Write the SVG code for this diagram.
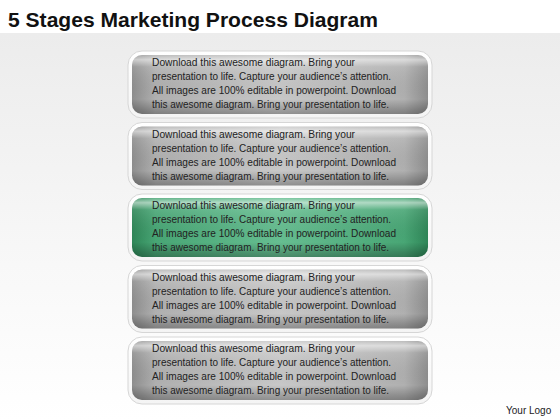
<svg xmlns="http://www.w3.org/2000/svg" width="560" height="420" viewBox="0 0 560 420">
<defs>
<linearGradient id="bg" x1="0" y1="0" x2="0" y2="1">
<stop offset="0" stop-color="#ececec"/>
<stop offset="0.6" stop-color="#f8f8f8"/>
<stop offset="1" stop-color="#ffffff"/>
</linearGradient>
<linearGradient id="grayH" x1="0" y1="0" x2="1" y2="0">
<stop offset="0" stop-color="#8e8e8e"/>
<stop offset="0.08" stop-color="#b0b0b0"/>
<stop offset="0.5" stop-color="#c8c8c8"/>
<stop offset="0.92" stop-color="#b0b0b0"/>
<stop offset="1" stop-color="#8e8e8e"/>
</linearGradient>
<linearGradient id="greenH" x1="0" y1="0" x2="1" y2="0">
<stop offset="0" stop-color="#2e8657"/>
<stop offset="0.08" stop-color="#48a675"/>
<stop offset="0.5" stop-color="#66be91"/>
<stop offset="0.92" stop-color="#48a675"/>
<stop offset="1" stop-color="#2e8657"/>
</linearGradient>
<linearGradient id="gloss" x1="0" y1="0" x2="0" y2="1">
<stop offset="0" stop-color="#ffffff" stop-opacity="0.15"/>
<stop offset="0.08" stop-color="#ffffff" stop-opacity="0.55"/>
<stop offset="0.2" stop-color="#ffffff" stop-opacity="0.1"/>
<stop offset="0.75" stop-color="#000000" stop-opacity="0"/>
<stop offset="0.92" stop-color="#000000" stop-opacity="0.2"/>
<stop offset="1" stop-color="#000000" stop-opacity="0.28"/>
</linearGradient>
<linearGradient id="frame" x1="0" y1="0" x2="0" y2="1">
<stop offset="0" stop-color="#ffffff"/>
<stop offset="1" stop-color="#f4f4f4"/>
</linearGradient>
</defs>
<style>
.frame{fill:url(#frame);stroke:#d6d6d6;stroke-width:1}
.gray{fill:url(#grayH)}
.green{fill:url(#greenH)}
.gloss{fill:url(#gloss)}
.t{font-family:"Liberation Sans",Arial,sans-serif;font-size:11.5px;fill:#222222}
.title{font-family:"Liberation Sans",Arial,sans-serif;font-size:21px;font-weight:bold;fill:#111111}
.logo{font-family:"Liberation Sans",Arial,sans-serif;font-size:10px;fill:#222222}
</style>
<rect x="0" y="0" width="560" height="420" fill="#ffffff"/>
<rect x="0" y="33" width="560" height="387" fill="url(#bg)"/>
<text class="title" x="8" y="27" textLength="370" lengthAdjust="spacingAndGlyphs">5 Stages Marketing Process Diagram</text>

<g id="stage1">
<rect class="frame" x="128" y="51" width="304" height="67" rx="14"/>
<rect class="gray" x="132" y="55" width="296" height="59" rx="10"/>
<rect class="gloss" x="132" y="55" width="296" height="59" rx="10"/>
<text class="t" x="152" y="66" textLength="203" lengthAdjust="spacingAndGlyphs">Download this awesome diagram. Bring your</text>
<text class="t" x="152" y="80" textLength="239" lengthAdjust="spacingAndGlyphs">presentation to life. Capture your audience’s attention.</text>
<text class="t" x="152" y="94" textLength="244" lengthAdjust="spacingAndGlyphs">All images are 100% editable in powerpoint. Download</text>
<text class="t" x="152" y="108" textLength="237" lengthAdjust="spacingAndGlyphs">this awesome diagram. Bring your presentation to life.</text>
</g>

<g id="stage2">
<rect class="frame" x="128" y="122.5" width="304" height="67" rx="14"/>
<rect class="gray" x="132" y="126.5" width="296" height="59" rx="10"/>
<rect class="gloss" x="132" y="126.5" width="296" height="59" rx="10"/>
<text class="t" x="152" y="137.5" textLength="203" lengthAdjust="spacingAndGlyphs">Download this awesome diagram. Bring your</text>
<text class="t" x="152" y="151.5" textLength="239" lengthAdjust="spacingAndGlyphs">presentation to life. Capture your audience’s attention.</text>
<text class="t" x="152" y="165.5" textLength="244" lengthAdjust="spacingAndGlyphs">All images are 100% editable in powerpoint. Download</text>
<text class="t" x="152" y="179.5" textLength="237" lengthAdjust="spacingAndGlyphs">this awesome diagram. Bring your presentation to life.</text>
</g>

<g id="stage3">
<rect class="frame" x="128" y="194" width="304" height="67" rx="14"/>
<rect class="green" x="132" y="198" width="296" height="59" rx="10"/>
<rect class="gloss" x="132" y="198" width="296" height="59" rx="10"/>
<text class="t" x="152" y="209" textLength="203" lengthAdjust="spacingAndGlyphs">Download this awesome diagram. Bring your</text>
<text class="t" x="152" y="223" textLength="239" lengthAdjust="spacingAndGlyphs">presentation to life. Capture your audience’s attention.</text>
<text class="t" x="152" y="237" textLength="244" lengthAdjust="spacingAndGlyphs">All images are 100% editable in powerpoint. Download</text>
<text class="t" x="152" y="251" textLength="237" lengthAdjust="spacingAndGlyphs">this awesome diagram. Bring your presentation to life.</text>
</g>

<g id="stage4">
<rect class="frame" x="128" y="265.5" width="304" height="67" rx="14"/>
<rect class="gray" x="132" y="269.5" width="296" height="59" rx="10"/>
<rect class="gloss" x="132" y="269.5" width="296" height="59" rx="10"/>
<text class="t" x="152" y="280.5" textLength="203" lengthAdjust="spacingAndGlyphs">Download this awesome diagram. Bring your</text>
<text class="t" x="152" y="294.5" textLength="239" lengthAdjust="spacingAndGlyphs">presentation to life. Capture your audience’s attention.</text>
<text class="t" x="152" y="308.5" textLength="244" lengthAdjust="spacingAndGlyphs">All images are 100% editable in powerpoint. Download</text>
<text class="t" x="152" y="322.5" textLength="237" lengthAdjust="spacingAndGlyphs">this awesome diagram. Bring your presentation to life.</text>
</g>

<g id="stage5">
<rect class="frame" x="128" y="337" width="304" height="67" rx="14"/>
<rect class="gray" x="132" y="341" width="296" height="59" rx="10"/>
<rect class="gloss" x="132" y="341" width="296" height="59" rx="10"/>
<text class="t" x="152" y="352" textLength="203" lengthAdjust="spacingAndGlyphs">Download this awesome diagram. Bring your</text>
<text class="t" x="152" y="366" textLength="239" lengthAdjust="spacingAndGlyphs">presentation to life. Capture your audience’s attention.</text>
<text class="t" x="152" y="380" textLength="244" lengthAdjust="spacingAndGlyphs">All images are 100% editable in powerpoint. Download</text>
<text class="t" x="152" y="394" textLength="237" lengthAdjust="spacingAndGlyphs">this awesome diagram. Bring your presentation to life.</text>
</g>

<g id="connectors"/>

<text class="logo" x="506" y="414">Your Logo</text>
</svg>
